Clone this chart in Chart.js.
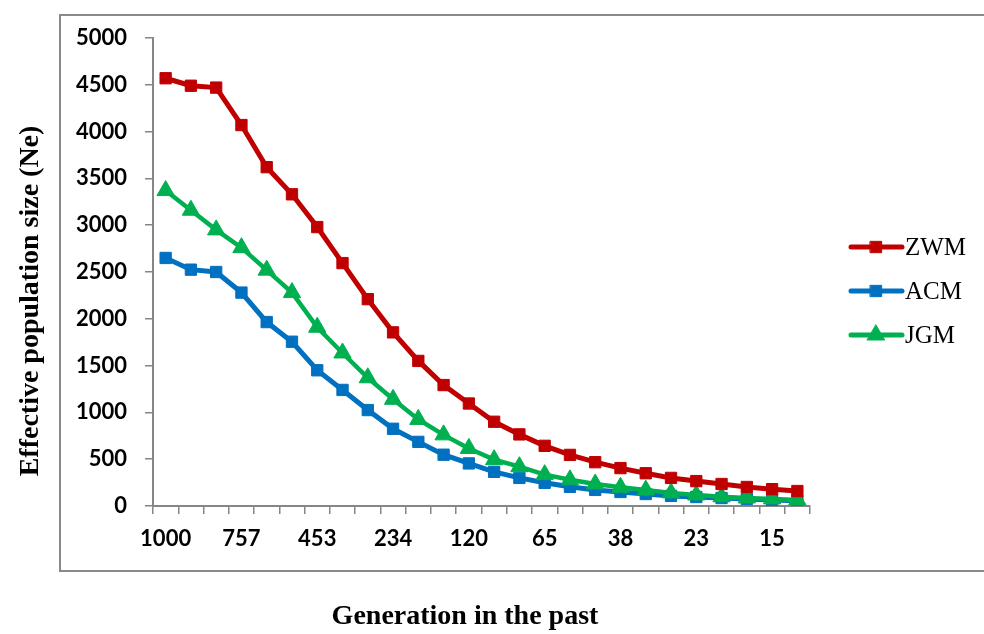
<!DOCTYPE html>
<html>
<head>
<meta charset="utf-8">
<title>Effective population size</title>
<script src="https://cdn.jsdelivr.net/npm/chart.js@4.4.1/dist/chart.umd.min.js"></script>
<style>
  html, body { margin: 0; padding: 0; background: #ffffff; }
  #wrap { position: relative; width: 984px; height: 634px; }
</style>
</head>
<body>
<div id="wrap"><canvas id="neChart" width="984" height="634"></canvas></div>
<script>
// generations in the past; only every third one is labelled on the axis
const generations = ['1000', '', '', '757', '', '', '453', '', '', '234', '', '', '120', '', '',
                     '65', '', '', '38', '', '', '23', '', '', '15', ''];

const zwm = [4570, 4490, 4470, 4070, 3620, 3330, 2980, 2595, 2210, 1855, 1550, 1292, 1095,
             900, 765, 643, 546, 468, 405, 350, 300, 266, 235, 203, 180, 160];
const acm = [2650, 2525, 2500, 2280, 1965, 1755, 1450, 1240, 1025, 825, 685, 548, 455,
             365, 300, 248, 205, 172, 150, 128, 108, 96, 85, 75, 64, 55];
const jgm = [3370, 3160, 2950, 2760, 2520, 2280, 1910, 1635, 1370, 1140, 925, 760, 615,
             495, 420, 335, 280, 235, 200, 170, 140, 118, 98, 86, 76, 65];

const yTicks = [0, 500, 1000, 1500, 2000, 2500, 3000, 3500, 4000, 4500, 5000];

const axisGray = '#868686';
const tickFont = { family: 'Lato, "Open Sans", sans-serif', size: 22, weight: 'bold' };

// frame, axis titles and the line+marker legend on the right
const decorPlugin = {
    id: 'decor',
    beforeDraw(chart) {
        const ctx = chart.ctx;
        ctx.save();
        ctx.strokeStyle = '#898989';
        ctx.lineWidth = 2;
        ctx.strokeRect(60, 15, 1000, 556);
        ctx.restore();
    },
    afterDraw(chart) {
        const ctx = chart.ctx;
        ctx.save();
        ctx.fillStyle = '#000000';
        ctx.textAlign = 'center';
        ctx.textBaseline = 'middle';

        ctx.font = 'bold 28px "Liberation Serif", "Times New Roman", serif';
        ctx.fillText('Generation in the past', 465, 617);

        ctx.save();
        ctx.translate(31, 301);
        ctx.rotate(-Math.PI / 2);
        ctx.font = 'bold 28px "Liberation Serif", "Times New Roman", serif';
        ctx.fillText('Effective population size (Ne)', 0, 0);
        ctx.restore();

        const rows = [247, 291, 335];
        chart.data.datasets.forEach((ds, i) => {
            const y = rows[i];
            ctx.strokeStyle = ds.borderColor;
            ctx.lineWidth = 5;
            ctx.lineCap = 'round';
            ctx.beginPath();
            ctx.moveTo(851, y);
            ctx.lineTo(902, y);
            ctx.stroke();
            ctx.fillStyle = ds.backgroundColor;
            ctx.strokeStyle = ds.borderColor;
            ctx.lineWidth = 1;
            Chart.helpers.drawPoint(ctx, {
                pointStyle: ds.pointStyle,
                radius: ds.pointRadius,
                borderWidth: 1,
                rotation: 0
            }, 876, y);
            ctx.fillStyle = '#000000';
            ctx.textAlign = 'left';
            ctx.font = '25px "Liberation Serif", "Times New Roman", serif';
            ctx.fillText(ds.label, 905, y + 1);
        });
        ctx.restore();
    }
};

const ctx = document.getElementById('neChart');

new Chart(ctx, {
    type: 'line',
    data: {
        labels: generations,
        datasets: [{
            label: 'ZWM',
            data: zwm,
            borderColor: '#C00000',
            backgroundColor: '#C00000',
            borderWidth: 5,
            pointStyle: 'rect',
            pointRadius: 8,
            pointBorderWidth: 1,
            order: 0
        }, {
            label: 'ACM',
            data: acm,
            borderColor: '#0070C0',
            backgroundColor: '#0070C0',
            borderWidth: 5,
            pointStyle: 'rect',
            pointRadius: 8,
            pointBorderWidth: 1,
            order: 2
        }, {
            label: 'JGM',
            data: jgm,
            borderColor: '#00B050',
            backgroundColor: '#00B050',
            borderWidth: 4.5,
            pointStyle: 'triangle',
            pointRadius: 10,
            pointBorderWidth: 1,
            order: 1
        }]
    },
    options: {
        responsive: false,
        animation: false,
        layout: {
            padding: { left: 0, top: 38, right: 174, bottom: 0 }
        },
        plugins: {
            legend: { display: false },
            tooltip: { enabled: false }
        },
        scales: {
            x: {
                type: 'category',
                offset: true,
                grid: {
                    offset: true,
                    drawOnChartArea: false,
                    drawTicks: true,
                    tickLength: 8,
                    color: axisGray,
                    lineWidth: 1.5
                },
                border: { color: axisGray, width: 2 },
                ticks: {
                    autoSkip: false,
                    maxRotation: 0,
                    padding: 12,
                    color: '#000000',
                    font: tickFont
                },
                afterFit(scale) {
                    scale.height = 128;
                }
            },
            y: {
                min: 0,
                max: 5000,
                afterBuildTicks(scale) {
                    scale.ticks = yTicks.map(v => ({ value: v }));
                },
                grid: {
                    drawOnChartArea: false,
                    drawTicks: true,
                    tickLength: 8,
                    color: axisGray,
                    lineWidth: 1.5
                },
                border: { color: axisGray, width: 2 },
                ticks: {
                    padding: 18,
                    color: '#000000',
                    font: tickFont,
                    callback: value => String(value)
                },
                afterFit(scale) {
                    scale.width = 153;
                }
            }
        }
    },
    plugins: [decorPlugin]
});
</script>
</body>
</html>
